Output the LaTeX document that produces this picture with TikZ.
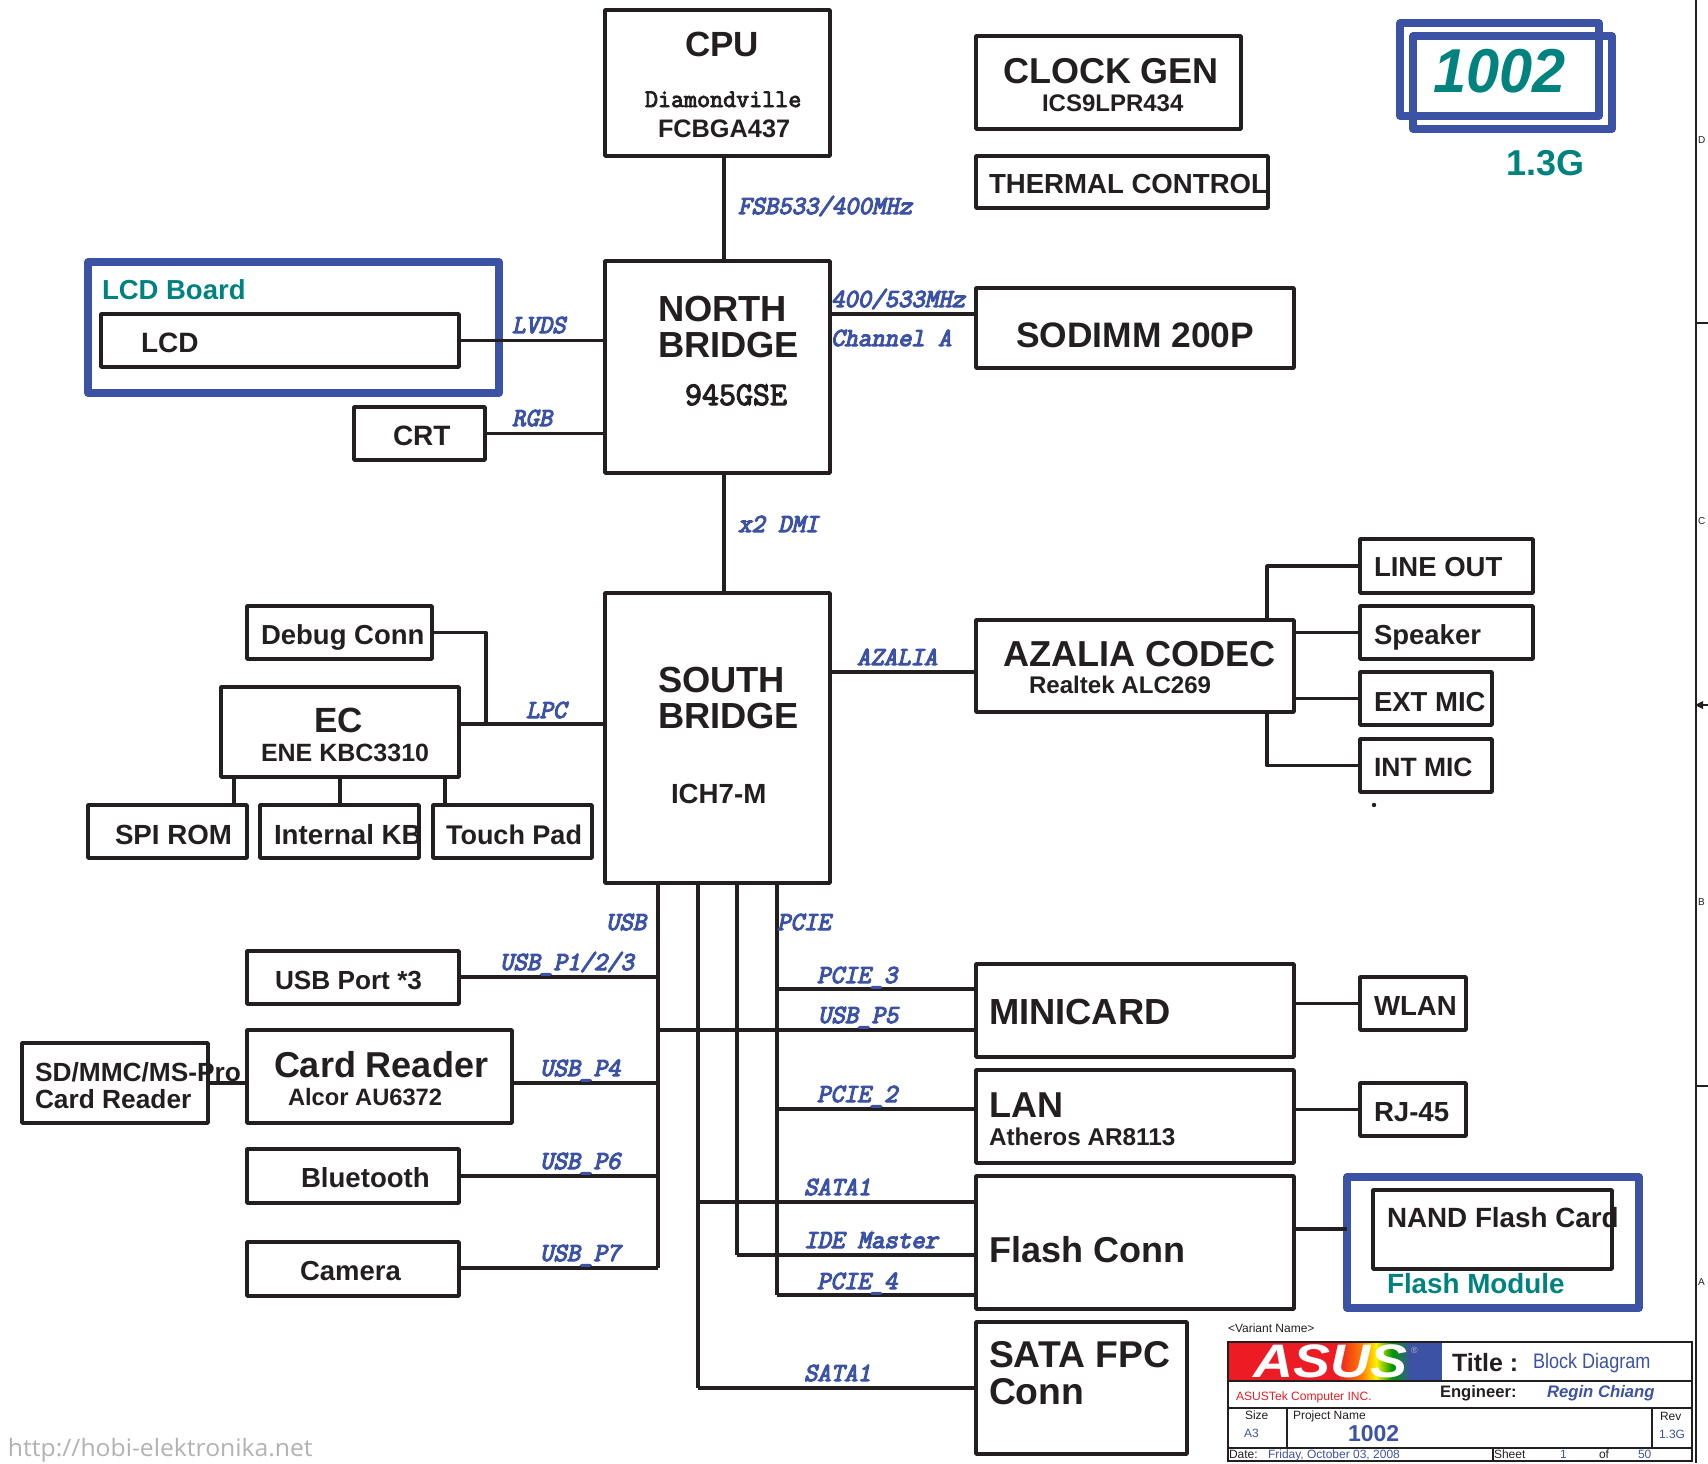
\documentclass[tikz,border=0pt]{standalone}
\usepackage{fontspec}
\setmainfont{Liberation Sans}
\newfontfamily\lblf[FakeBold=4.5,FakeSlant=0.22]{Latin Modern Mono}
\newfontfamily\monof[FakeBold=3.5]{Latin Modern Mono}
\newfontfamily\urlf{Open Sans}
\definecolor{ink}{HTML}{231F20}
\definecolor{blu}{HTML}{3C52A4}
\definecolor{tealc}{HTML}{00827F}
\definecolor{rd}{HTML}{ED1C24}
\tikzset{
  box/.style={draw=ink,line width=1.8pt,line join=round,inner sep=0pt,outer sep=0pt,fill=none},
  bluebox/.style={draw=blu,line width=3.7pt,line join=round,inner sep=0pt,outer sep=0pt,fill=none},
  thin box/.style={draw=ink,line width=0.7pt,inner sep=0pt,outer sep=0pt,fill=none},
  wire/.style={draw=ink,line width=1.8pt,line join=round},
  thin wire/.style={draw=ink,line width=0.7pt},
  txt/.style={anchor=base west,inner sep=0pt,outer sep=0pt,text=ink},
  bd/.style={font=\bfseries},
  lb/.style={text=blu,font=\lblf},
  mn/.style={font=\monof},
  tl/.style={text=tealc,font=\bfseries},
  bl/.style={text=blu},
}
\newcommand\bx[6][box]{\pgfmathsetmacro\bxw{(#5-#3)*0.5}\pgfmathsetmacro\bxh{(#6-#4)*0.5}%
  \node[#1,minimum width=\bxw pt,minimum height=\bxh pt] (#2) at ({(#3+#5)/2},{(#4+#6)/2}) {};}
\newcommand\tx[6][]{\pgfmathsetmacro\fs{#5*0.5}%
  \node[txt,#1] (#2) at (#3,#4) {\fontsize{\fs}{\fs}\selectfont #6};}
\begin{document}
\begin{tikzpicture}[x=0.5pt,y=-0.5pt]
\useasboundingbox (0,0) rectangle (1708,1463);
% boxes
\bx{cpu}{605}{10}{830}{156}
\bx{clk}{976}{36}{1241}{129}
\bx{therm}{976}{156}{1268}{208}
\bx[bluebox]{rA}{1400}{23}{1599}{116}
\bx[bluebox]{rB}{1413}{36}{1612}{129}
\bx{nb}{605}{261}{830}{473}
\bx[bluebox]{lcdb}{88}{262}{499}{393}
\bx{lcd}{101}{314}{459}{367}
\bx{crt}{354}{407}{485}{460}
\bx{sodimm}{976}{288}{1294}{368}
\bx{sb}{605}{593}{830}{883}
\bx{debug}{247}{606}{432}{659}
\bx{ec}{221}{687}{459}{777}
\bx{spi}{88}{805}{247}{858}
\bx{kb}{260}{805}{419}{858}
\bx{touch}{433}{805}{592}{858}
\bx{codec}{976}{620}{1294}{712}
\bx{lineout}{1360}{539}{1533}{593}
\bx{speaker}{1360}{606}{1533}{659}
\bx{extmic}{1360}{672}{1492}{725}
\bx{intmic}{1360}{739}{1492}{792}
\bx{usbp}{247}{951}{459}{1004}
\bx{cardr}{247}{1030}{512}{1123}
\bx{sdc}{22}{1043}{208}{1123}
\bx{bt}{247}{1149}{459}{1203}
\bx{cam}{247}{1242}{459}{1296}
\bx{mini}{976}{964}{1294}{1057}
\bx{lan}{976}{1070}{1294}{1163}
\bx{flash}{976}{1176}{1294}{1309}
\bx{sata}{976}{1322}{1187}{1454}
\bx{wlan}{1360}{977}{1466}{1030}
\bx{rj}{1360}{1083}{1466}{1136}
\bx[bluebox]{fmod}{1347}{1177}{1639}{1308}
\bx{nand}{1373}{1190}{1612}{1269}
% junction coordinates
\coordinate (xusb) at (658,0);
\coordinate (xsat) at (698,0);
\coordinate (xide) at (737,0);
\coordinate (xpci) at (777,0);
\coordinate (xhub) at (724,0);
\coordinate (xaud) at (1267,0);
\coordinate (xdbg) at (486,0);
\coordinate (ylpc) at (0,724);
\coordinate (yddr) at (0,314);
\coordinate (yaza) at (0,672);
\coordinate (yp1) at (0,977);
\coordinate (yp5) at (0,1030);
\coordinate (yp4) at (0,1083);
\coordinate (yp6) at (0,1176);
\coordinate (yp7) at (0,1268);
\coordinate (ypc3) at (0,989);
\coordinate (ypc2) at (0,1109);
\coordinate (ysa1) at (0,1202);
\coordinate (yide) at (0,1255);
\coordinate (ypc4) at (0,1295);
\coordinate (ysa2) at (0,1388);
\coordinate (yfl) at (0,1229);
% connectors
\draw[wire] (xhub |- cpu.south) -- (xhub |- nb.north);
\draw[wire] (xhub |- nb.south) -- (xhub |- sb.north);
\draw[wire] (lcd.east) -- (lcd.east -| nb.west);
\draw[wire] (crt.east) -- (crt.east -| nb.west);
\draw[wire] (nb.east |- yddr) -- (sodimm.west |- yddr);
\draw[wire] (sb.east |- yaza) -- (codec.west |- yaza);
\draw[wire] (xaud |- codec.north) -- (xaud |- lineout.west) -- (lineout.west);
\draw[wire] (codec.east |- speaker.west) -- (speaker.west);
\draw[wire] (codec.east |- extmic.west) -- (extmic.west);
\draw[wire] (xaud |- codec.south) -- (xaud |- intmic.west) -- (intmic.west);
\draw[wire] (debug.east) -- (xdbg |- debug.east) -- (xdbg |- ylpc);
\draw[wire] (ec.east |- ylpc) -- (sb.west |- ylpc);
\draw[wire] (234,0 |- ec.south) -- (234,0 |- spi.north);
\draw[wire] (340,0 |- ec.south) -- (340,0 |- kb.north);
\draw[wire] (445,0 |- ec.south) -- (445,0 |- touch.north);
\draw[wire] (xusb |- sb.south) -- (xusb |- yp7);
\draw[wire] (xsat |- sb.south) -- (xsat |- ysa2);
\draw[wire] (xide |- sb.south) -- (xide |- yide);
\draw[wire] (xpci |- sb.south) -- (xpci |- ypc4);
\draw[wire] (usbp.east |- yp1) -- (xusb |- yp1);
\draw[wire] (cardr.east |- yp4) -- (xusb |- yp4);
\draw[wire] (bt.east |- yp6) -- (xusb |- yp6);
\draw[wire] (cam.east |- yp7) -- (xusb |- yp7);
\draw[wire] (xusb |- yp5) -- (mini.west |- yp5);
\draw[wire] (xpci |- ypc3) -- (mini.west |- ypc3);
\draw[wire] (xpci |- ypc2) -- (lan.west |- ypc2);
\draw[wire] (xsat |- ysa1) -- (flash.west |- ysa1);
\draw[wire] (xide |- yide) -- (flash.west |- yide);
\draw[wire] (xpci |- ypc4) -- (flash.west |- ypc4);
\draw[wire] (xsat |- ysa2) -- (sata.west |- ysa2);
\draw[wire] (sdc.east |- yp4) -- (cardr.west |- yp4);
\draw[wire] (mini.east |- wlan.west) -- (wlan.west);
\draw[wire] (lan.east |- rj.west) -- (rj.west);
\draw[wire] (flash.east |- yfl) -- (fmod.west |- yfl);
% texts
\tx[bd]{tCpu}{685}{56}{35}{CPU}
\tx[mn]{tDia}{645}{107}{25.3}{Diamondville}
\tx[bd]{tFc}{658}{137}{25.3}{FCBGA437}
\tx[bd]{tClk}{1003}{83}{36}{CLOCK GEN}
\tx[bd]{tIcs}{1042}{111}{24}{ICS9LPR434}
\tx[bd]{tTh}{989}{193}{27.6}{THERMAL CONTROL}
\tx[font=\bfseries\itshape,text=tealc,xscale=0.96]{tNum}{1433}{92}{62}{1002}
\tx[tl]{tVer}{1506}{175}{36}{1.3G}
\tx[lb]{lFsb}{738}{214}{26}{FSB533/400MHz}
\tx[tl]{tLb}{102}{299}{27.5}{LCD Board}
\tx[bd]{tLcd}{141}{352}{28}{LCD}
\tx[lb]{lLv}{512}{333}{26}{LVDS}
\tx[bd]{tN1}{658}{321}{36.3}{NORTH}
\tx[bd]{tN2}{658}{357}{36.3}{BRIDGE}
\tx[mn]{tGse}{685}{405}{33}{945GSE}
\tx[lb]{lDd1}{831}{307}{26}{400/533MHz}
\tx[lb]{lDd2}{831}{346}{26}{Channel A}
\tx[bd]{tSo}{1016}{347}{35.4}{SODIMM 200P}
\tx[lb]{lRg}{512}{426}{26}{RGB}
\tx[bd]{tCrt}{393}{445}{28}{CRT}
\tx[lb]{lDm}{738}{532}{26}{x2 DMI}
\tx[bd]{tS1}{658}{692}{36.3}{SOUTH}
\tx[bd]{tS2}{658}{728}{36.3}{BRIDGE}
\tx[bd]{tIch}{671}{803}{27.7}{ICH7-M}
\tx[bd]{tDbg}{261}{644}{27.5}{Debug Conn}
\tx[bd]{tEc}{314}{732}{35}{EC}
\tx[bd]{tEne}{261}{761}{25}{ENE KBC3310}
\tx[lb]{lLp}{526}{718}{26}{LPC}
\tx[bd]{tSpi}{115}{844}{27.7}{SPI ROM}
\tx[bd]{tKb}{274}{844}{27.7}{Internal KB}
\tx[bd]{tTp}{446}{844}{27}{Touch Pad}
\tx[lb]{lAz}{857}{665}{26}{AZALIA}
\tx[bd]{tCo}{1003}{666}{36.1}{AZALIA CODEC}
\tx[bd]{tRe}{1029}{693}{24.1}{Realtek ALC269}
\tx[bd]{tLo}{1374}{576}{27.5}{LINE OUT}
\tx[bd]{tSp}{1374}{644}{27.5}{Speaker}
\tx[bd]{tEm}{1374}{711}{27.5}{EXT MIC}
\tx[bd]{tIm}{1374}{776}{26.5}{INT MIC}
\fill[ink] (1374,805) circle (2.2);
\tx[lb]{lUs}{606}{930}{26}{USB}
\tx[lb]{lPc}{777}{930}{26}{PCIE}
\tx[lb]{lP1}{500}{970}{26}{USB\_P1/2/3}
\tx[lb]{lC3}{817}{983}{26}{PCIE\_3}
\tx[lb]{lP5}{818}{1023}{26}{USB\_P5}
\tx[lb]{lP4}{540}{1076}{26}{USB\_P4}
\tx[lb]{lC2}{817}{1102}{26}{PCIE\_2}
\tx[lb]{lP6}{540}{1169}{26}{USB\_P6}
\tx[lb]{lS1}{804}{1195}{26}{SATA1}
\tx[lb]{lId}{804}{1248}{26}{IDE Master}
\tx[lb]{lP7}{540}{1261}{26}{USB\_P7}
\tx[lb]{lC4}{817}{1289}{26}{PCIE\_4}
\tx[lb]{lS2}{804}{1381}{26}{SATA1}
\tx[bd]{tUp}{275}{989}{26.2}{USB Port *3}
\tx[bd]{tCr}{274}{1077}{36}{Card Reader}
\tx[bd]{tAl}{288}{1105}{23.7}{Alcor AU6372}
\tx[bd]{tSd}{35}{1081}{26.3}{SD/MMC/MS-Pro}
\tx[bd]{tSd2}{35}{1108}{26.3}{Card Reader}
\tx[bd]{tBt}{301}{1187}{27.6}{Bluetooth}
\tx[bd]{tCa}{300}{1280}{27.5}{Camera}
\tx[bd]{tMi}{989}{1024}{36.3}{MINICARD}
\tx[bd]{tLa}{989}{1117}{36}{LAN}
\tx[bd]{tAt}{989}{1145}{24.3}{Atheros AR8113}
\tx[bd]{tWl}{1374}{1015}{27.6}{WLAN}
\tx[bd]{tRj}{1374}{1121}{27.6}{RJ-45}
\tx[bd]{tFc2}{989}{1262}{36}{Flash Conn}
\tx[bd]{tNa}{1387}{1227}{27.8}{NAND Flash Card}
\tx[tl]{tFm}{1387}{1293}{27.8}{Flash Module}
\tx[bd]{tSa}{989}{1367}{37.3}{SATA FPC}
\tx[bd]{tSa2}{989}{1404}{37.3}{Conn}
\tx[font=\urlf,text=black!30,xscale=1.03]{tUrl}{8}{1456}{24}{http://hobi-elektronika.net}
% title block
\tx{tVar}{1228}{1332}{12}{<Variant Name>}
\fill[rd] (1228,1342) rectangle (1338,1381);
\shade[left color=rd,right color=orange] (1338,1342) rectangle (1362,1381);
\shade[left color=orange,right color=yellow!90!orange] (1362,1342) rectangle (1376,1381);
\shade[left color=yellow!90!orange,right color=green!60!black] (1376,1342) rectangle (1392,1381);
\shade[left color=green!60!black,right color=blu] (1392,1342) rectangle (1410,1381);
\fill[blu] (1410,1342) rectangle (1442,1381);
\node[txt,text=white,font=\bfseries\itshape,xscale=1.18,anchor=base west] (tLogo) at (1253,1377) {\fontsize{23.5}{23.5}\selectfont ASUS};
\tx[text=black!30]{tReg}{1411}{1353}{9}{®}
\bx[thin box]{tblock}{1228}{1342}{1692}{1461}
\draw[thin wire] (tblock.west |- 0,1381) -- (tblock.east |- 0,1381);
\draw[thin wire] (tblock.west |- 0,1408) -- (tblock.east |- 0,1408);
\draw[thin wire] (tblock.west |- 0,1448) -- (tblock.east |- 0,1448);
\draw[thin wire] (1287,1408) -- (1287,1448);
\draw[thin wire] (1652,1408) -- (1652,1448);
\draw[thin wire] (1493,1448) -- (1493,0 |- tblock.south);
\tx[bd]{tTi}{1452}{1371}{25}{Title :}
\node[txt,text=blu,xscale=0.86] (tBl) at (1533,1368) {\fontsize{10.5}{10.5}\selectfont Block Diagram};
\tx[bd]{tEn}{1440}{1397}{16.6}{Engineer:}
\tx[font=\bfseries\itshape,text=blu]{tRg}{1547}{1397}{16.7}{Regin Chiang}
\tx[text=rd]{tAs}{1236}{1400}{12.1}{ASUSTek Computer INC.}
\tx{tSz}{1245}{1419}{12}{Size}
\tx[bl]{tA3}{1244}{1437}{12}{A3}
\tx{tPn}{1293}{1419}{12}{Project Name}
\tx[font=\bfseries,text=blu]{tPj}{1348}{1441}{23}{1002}
\tx{tRv}{1660}{1420}{12}{Rev}
\tx[bl]{tRn}{1659}{1438}{12}{1.3G}
\tx{tDt}{1229}{1458}{12}{Date:}
\tx[bl]{tDv}{1268}{1458}{12}{Friday, October 03, 2008}
\tx{tSh}{1494}{1458}{12}{Sheet}
\tx[bl]{tS1n}{1560}{1458}{12}{1}
\tx{tOf}{1599}{1458}{12}{of}
\tx[bl]{tS50}{1638}{1458}{12}{50}
% frame on the right
\coordinate (fT) at (1696,0);
\coordinate (fB) at (1696,1463);
\draw[thin wire] (fT) -- (fB);
\draw[thin wire] (fT |- 0,323) -- (1708,323);
\draw[thin wire] (fT |- 0,705) -- (1708,705);
\draw[thin wire] (fT |- 0,1086) -- (1708,1086);
\fill[ink] (1695,705) -- (1703,701) -- (1703,709) -- cycle;
\tx{fD}{1698}{143}{10}{D}
\tx{fC}{1698}{524}{10}{C}
\tx{fB2}{1698}{905}{10}{B}
\tx{fA}{1698}{1285}{10}{A}
\end{tikzpicture}
\end{document}
